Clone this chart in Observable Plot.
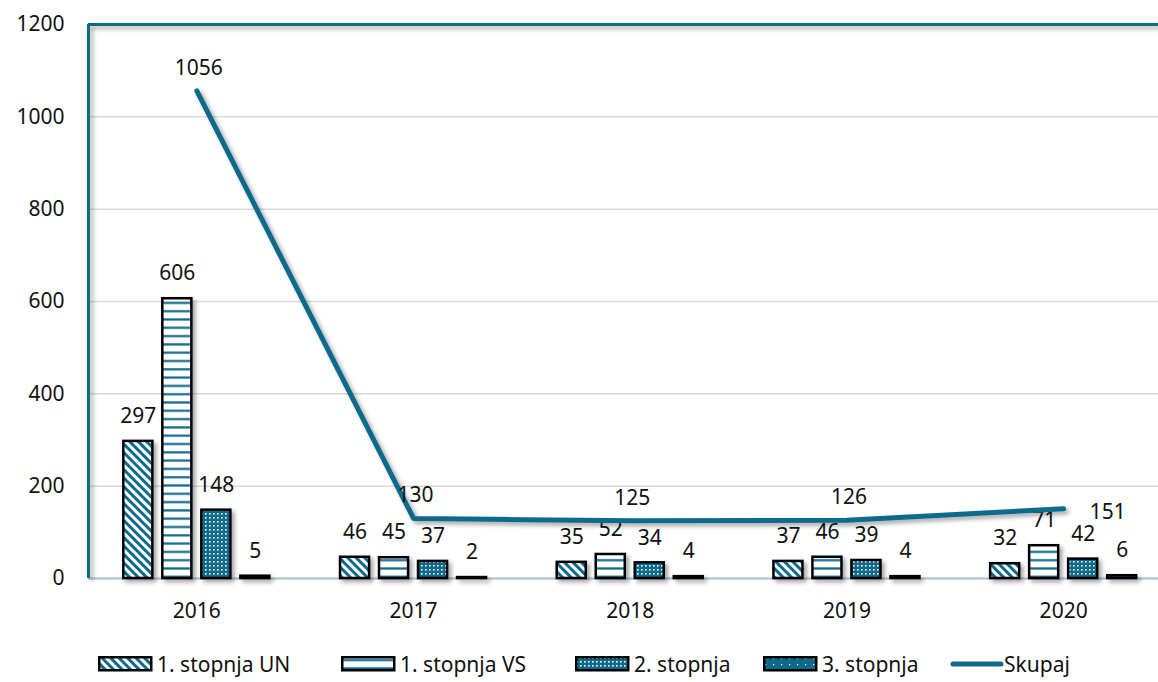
<!DOCTYPE html>
<html><head><meta charset="utf-8">
<script src="https://cdn.jsdelivr.net/npm/d3@7"></script>
<script src="https://cdn.jsdelivr.net/npm/@observablehq/plot@0.6"></script>
<style>
html,body{margin:0;padding:0;background:#fff;overflow:hidden;}
#wrap{position:relative;width:1158px;height:682px;font-family:"Noto Sans",sans-serif;}
#legend{position:absolute;left:0;top:640px;width:1158px;height:42px;}
.li{position:absolute;top:12px;display:flex;align-items:center;font-size:21px;color:#111;line-height:24px;}
.li svg{margin-right:4px;}
</style>
</head><body><div id="wrap"><div id="chart"></div><div id="legend"></div></div>
<script>
const years = ["2016","2017","2018","2019","2020"];
const seriesNames = ["1. stopnja UN","1. stopnja VS","2. stopnja","3. stopnja"];
const stopnjaUN = [297,46,35,37,32];
const stopnjaVS = [606,45,52,46,71];
const stopnja2 = [148,37,34,39,42];
const stopnja3 = [5,2,4,4,6];
const skupaj = [1056,130,125,126,151];
const totalName = "Skupaj";
const yTicks = [0,200,400,600,800,1000,1200];

const teal = "#0e6a8c";
const patternIds = ["pUN","pVS","p2","p3"];
const seriesValues = [stopnjaUN, stopnjaVS, stopnja2, stopnja3];
const step = 0.18, half = 0.067;
const FS = 21;

const bars = [];
seriesValues.forEach((vals, i) => vals.forEach((v, j) => {
  const cx = j + (i - 1.5) * step;
  bars.push({series: seriesNames[i], pid: patternIds[i], cx, x1: cx - half, x2: cx + half, value: v});
}));
const totals = skupaj.map((v, j) => ({x: j, value: v, last: j === skupaj.length - 1}));

function makeDefs(sel) {
  const defs = sel.append("defs");
  const f = defs.append("filter").attr("id","shadow").attr("filterUnits","userSpaceOnUse").attr("x",-50).attr("y",-50).attr("width",1300).attr("height",800);
  f.append("feDropShadow").attr("dx",3).attr("dy",3).attr("stdDeviation",2).attr("flood-color","#000").attr("flood-opacity",0.35);
  let p = defs.append("pattern").attr("id","pUN").attr("patternUnits","userSpaceOnUse").attr("width",6).attr("height",6).attr("patternTransform","rotate(-45)");
  p.append("rect").attr("width",6).attr("height",6).attr("fill","#fff");
  p.append("rect").attr("width",3).attr("height",6).attr("fill",teal);
  p = defs.append("pattern").attr("id","pVS").attr("patternUnits","userSpaceOnUse").attr("width",8).attr("height",8.3);
  p.append("rect").attr("width",8).attr("height",8.3).attr("fill","#fff");
  p.append("rect").attr("y",3).attr("width",8).attr("height",2.2).attr("fill",teal);
  p = defs.append("pattern").attr("id","p2").attr("patternUnits","userSpaceOnUse").attr("width",4).attr("height",4);
  p.append("rect").attr("width",4).attr("height",4).attr("fill",teal);
  p.append("rect").attr("x",1).attr("y",1).attr("width",1.6).attr("height",1.6).attr("fill","#fff");
  p = defs.append("pattern").attr("id","p3").attr("patternUnits","userSpaceOnUse").attr("width",8).attr("height",6);
  p.append("rect").attr("width",8).attr("height",6).attr("fill",teal);
  p.append("rect").attr("x",2).attr("y",2).attr("width",1.2).attr("height",1.2).attr("fill","#fff");
  return defs;
}

const chart = Plot.plot({
  width: 1158,
  height: 640,
  marginLeft: 88,
  marginRight: 0,
  marginTop: 24,
  marginBottom: 62,
  style: {fontFamily: "Noto Sans, sans-serif", fontSize: FS + "px", color: "#111", overflow: "visible"},
  x: {type: "linear", domain: [-0.5, 4.5], range: [88, 1171.5], axis: null},
  y: {domain: [0, 1200], axis: null},
  marks: [
    () => { const s = d3.create("svg:g"); makeDefs(s); return s.node(); },
    Plot.gridY(yTicks.slice(1, -1), {stroke: "#d9d9d9", strokeOpacity: 1, strokeWidth: 1.5}),
    Plot.axisY(yTicks, {tickSize: 0, tickPadding: 24, tickFormat: d => String(d), fontSize: FS, label: null, fill: "#111"}),
    Plot.axisX(d3.range(years.length), {tickSize: 0, tickPadding: 25, tickFormat: i => years[i], fontSize: FS, label: null, fill: "#111"}),
    Plot.ruleY([0], {stroke: "#b9cad3", strokeWidth: 2.5}),
    Plot.rect(bars, {x1: "x1", x2: "x2", y1: 0, y2: "value", fill: d => `url(#${d.pid})`, stroke: "#000", strokeWidth: 2.5}),
    Plot.text(bars, {x: "cx", y: "value", text: d => String(d.value), dy: -25, fontSize: FS, fill: "#111"}),
    Plot.line(totals, {x: "x", y: "value", stroke: teal, strokeWidth: 5, strokeLinecap: "round", strokeLinejoin: "round"}),
    Plot.text(totals.filter(d => !d.last), {x: "x", y: "value", text: d => String(d.value), dy: -23, dx: 2, fontSize: FS, fill: "#111"}),
    Plot.text(totals.filter(d => d.last), {x: "x", y: "value", text: d => String(d.value), dx: 44, dy: 3, fontSize: FS, fill: "#111"}),
    Plot.ruleY([1200], {stroke: teal, strokeWidth: 3}),
    Plot.ruleX([-0.5], {y1: 0, y2: 1200, stroke: teal, strokeWidth: 3})
  ]
});
document.getElementById("chart").appendChild(chart);
const root = d3.select(chart);
root.selectAll("rect").filter(function(){ return /url\(#p/.test(this.getAttribute("fill")||""); }).style("filter","url(#shadow)");
root.selectAll("g[stroke-width='5']").style("filter","url(#shadow)");
root.selectAll("g[stroke-width='3']").style("filter","url(#shadow)");

const legend = d3.select("#legend");
const legendLeft = [98, 341, 575, 763, 950];
seriesNames.forEach((name, i) => {
  const item = legend.append("div").attr("class","li").style("left", legendLeft[i] + "px");
  const s = item.append("svg").attr("width",55).attr("height",16);
  s.append("rect").attr("x",1.25).attr("y",1.25).attr("width",52).attr("height",13).attr("fill",`url(#${patternIds[i]})`).attr("stroke","#000").attr("stroke-width",2.5);
  item.append("span").text(name);
});
{
  const item = legend.append("div").attr("class","li").style("left", legendLeft[4] + "px");
  const s = item.append("svg").attr("width",54).attr("height",16).style("margin-right","0px");
  s.append("line").attr("x1",3).attr("x2",51).attr("y1",8).attr("y2",8).attr("stroke",teal).attr("stroke-width",5).attr("stroke-linecap","round");
  item.append("span").text(totalName);
}
</script>
</body></html>
